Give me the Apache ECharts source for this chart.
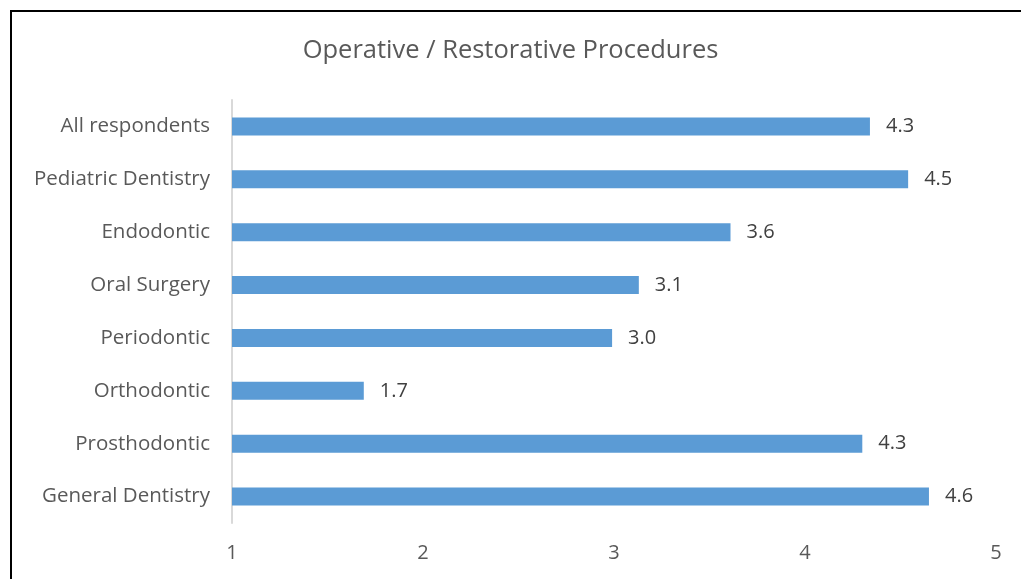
<!DOCTYPE html>
<html><head><meta charset="utf-8">
<script src="https://cdn.jsdelivr.net/npm/echarts@6/dist/echarts.min.js"></script>
<style>html,body{margin:0;padding:0;background:#fff}#c{width:1021px;height:579px}</style>
</head><body><div id="c"></div>
<script>
const titleText = 'Operative / Restorative Procedures';
const categories = ['General Dentistry','Prosthodontic','Orthodontic','Periodontic','Oral Surgery','Endodontic','Pediatric Dentistry','All respondents'];
const values = [4.649, 4.30, 1.69, 2.99, 3.13, 3.61, 4.54, 4.34];
const axisMin = 1, axisMax = 5, axisStep = 1;
const FONT = 'Open Sans';
const chart = echarts.init(document.getElementById('c'), null, {renderer:'canvas'});
chart.setOption({
  animation:false,
  backgroundColor:'#fff',
  title:{text:titleText,left:'center',top:33,textStyle:{fontFamily:FONT,fontWeight:'normal',fontSize:25.5,color:'#595959'}},
  graphic:[{type:'rect',shape:{x:11,y:11,width:1100,height:700},style:{fill:'none',stroke:'#000',lineWidth:2}}],
  grid:{left:232,right:25,top:100,bottom:56},
  xAxis:{type:'value',min:axisMin,max:axisMax,interval:axisStep,
    axisLine:{show:false},axisTick:{show:false},splitLine:{show:false},
    axisLabel:{fontFamily:FONT,fontSize:20,color:'#595959',margin:20}},
  yAxis:{type:'category',data:categories,
    axisLine:{show:true,lineStyle:{color:'#d9d9d9',width:2}},axisTick:{show:false},
    axisLabel:{fontFamily:FONT,fontSize:20.5,color:'#595959',margin:22}},
  series:[{type:'bar',data:values,barWidth:18,itemStyle:{color:'#5b9bd5'},
    label:{show:true,position:'right',distance:16,fontFamily:FONT,fontSize:20,color:'#404040',
      formatter:p=>p.value.toFixed(1)}}]
});
</script></body></html>
